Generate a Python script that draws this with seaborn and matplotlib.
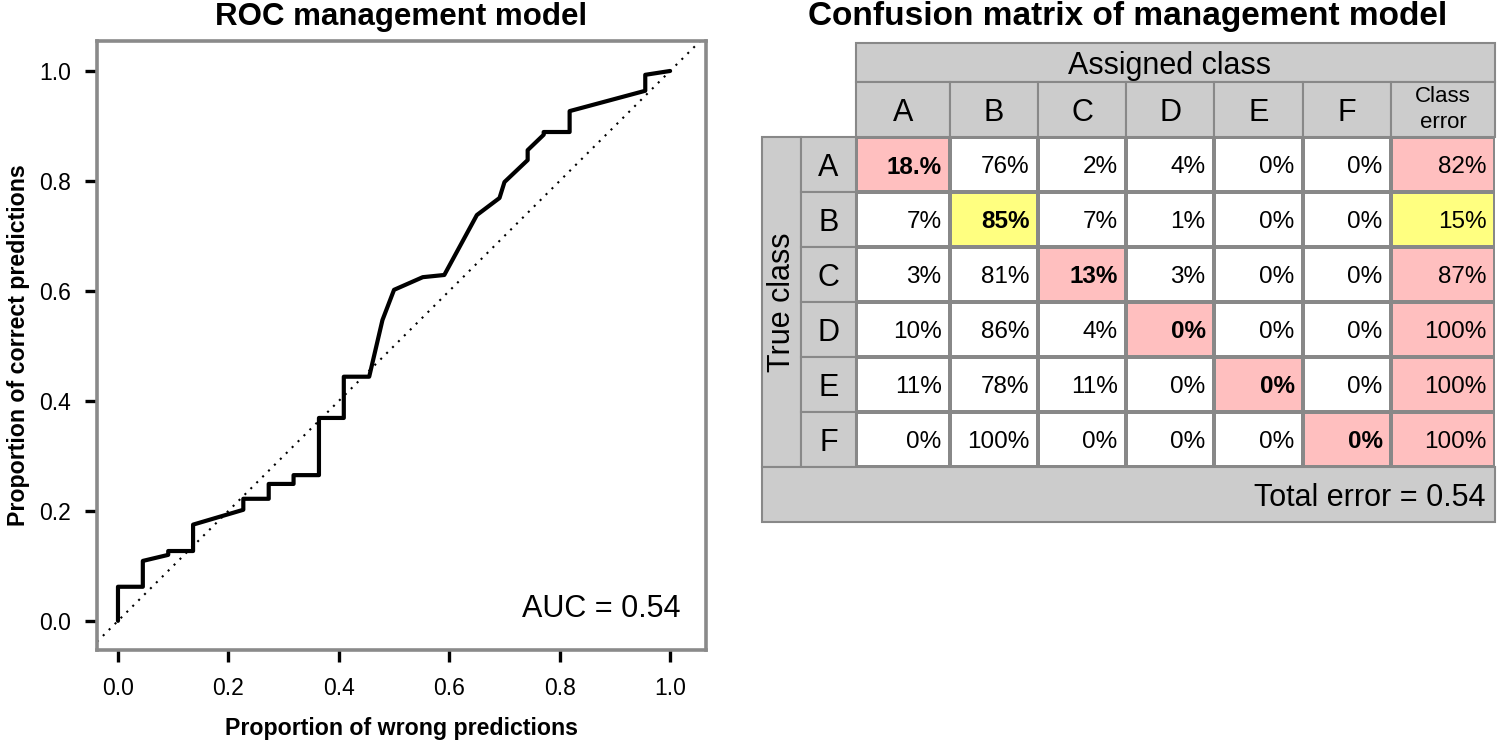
import numpy as np
import pandas as pd
import matplotlib
matplotlib.use('Agg')
import matplotlib.pyplot as plt
from matplotlib.colors import ListedColormap
from matplotlib.patches import Rectangle
import seaborn as sns

# ROC curve
fpr = [0.0, 0.0, 0.045, 0.045, 0.091, 0.091, 0.136, 0.136, 0.227, 0.227, 0.273, 0.273,
       0.318, 0.318, 0.364, 0.364, 0.409, 0.409, 0.455, 0.479, 0.500, 0.552, 0.591,
       0.650, 0.691, 0.700, 0.742, 0.742, 0.771, 0.771, 0.818, 0.818, 0.955, 0.955, 1.0]
tpr = [0.0, 0.062, 0.062, 0.109, 0.120, 0.127, 0.127, 0.175, 0.202, 0.222, 0.222, 0.249,
       0.249, 0.265, 0.265, 0.369, 0.369, 0.444, 0.444, 0.547, 0.602, 0.625, 0.629,
       0.738, 0.769, 0.798, 0.838, 0.856, 0.884, 0.889, 0.889, 0.927, 0.964, 0.993, 1.0]
auc = 0.54

# confusion matrix
classes = ['A', 'B', 'C', 'D', 'E', 'F']
cell_text = [
    ['18.%', '76%', '2%', '4%', '0%', '0%'],
    ['7%', '85%', '7%', '1%', '0%', '0%'],
    ['3%', '81%', '13%', '3%', '0%', '0%'],
    ['10%', '86%', '4%', '0%', '0%', '0%'],
    ['11%', '78%', '11%', '0%', '0%', '0%'],
    ['0%', '100%', '0%', '0%', '0%', '0%'],
]
correct_pct = [18, 85, 13, 0, 0, 0]
class_error = ['82%', '15%', '87%', '100%', '100%', '100%']
total_error = 0.54

# colour code per cell: 0 plain, 1 poor class (pink), 2 good class (yellow)
codes = np.zeros((6, 7), dtype=int)
for i in range(6):
    c = 2 if correct_pct[i] >= 50 else 1
    codes[i, i] = c
    codes[i, 6] = c
codes_df = pd.DataFrame(codes, index=classes, columns=classes + ['Class error'])

sns.set_style('white')
plt.rcParams['font.family'] = ['Liberation Sans', 'DejaVu Sans']
plt.rcParams['text.color'] = 'black'
plt.rcParams['axes.labelcolor'] = 'black'
plt.rcParams['xtick.color'] = 'black'
plt.rcParams['ytick.color'] = 'black'

W, H = 1499, 748
fig = plt.figure(figsize=(W / 100, H / 100), dpi=100)

# ---------------- ROC panel ----------------
ax = fig.add_axes([97 / W, 1 - 650 / H, 609 / W, 609 / H])
roc = pd.DataFrame({'fpr': fpr, 'tpr': tpr})
sns.lineplot(data=roc, x='fpr', y='tpr', sort=False, estimator=None, color='black',
             linewidth=3, ax=ax)
ax.axline((0, 0), (1, 1), color='black', linewidth=1.5, dashes=(1, 3))
ax.set_xlim(-0.038, 1.065)
ax.set_ylim(-0.053, 1.0545)
ticks = [0.0, 0.2, 0.4, 0.6, 0.8, 1.0]
ax.set_xticks(ticks)
ax.set_yticks(ticks)
ax.set_xticklabels(['%.1f' % t for t in ticks])
ax.set_yticklabels(['%.1f' % t for t in ticks])
ax.tick_params(axis='both', direction='out', length=8.5, width=2.4, color='black',
               labelsize=16.5, labelcolor='black', left=True, bottom=True)
ax.tick_params(axis='x', pad=11)
ax.tick_params(axis='y', pad=10)
for s in ax.spines.values():
    s.set_visible(True)
    s.set_color('#8a8a8a')
    s.set_linewidth(2.6)
ax.set_xlabel('Proportion of wrong predictions', fontsize=16.7, fontweight='bold')
ax.set_ylabel('Proportion of correct predictions', fontsize=16.7, fontweight='bold')
ax.xaxis.set_label_coords(0.5, -(717 - 650) / 609)
ax.yaxis.set_label_coords(-(97 - 30) / 609, 0.5)
ax.text(1.018, 0.022, 'AUC = %.2f' % auc, fontsize=22, ha='right', va='center')
fig.text(401 / W, 1 - 17 / H, 'ROC management model', fontsize=22.5, fontweight='bold',
         ha='center', va='center')

# ---------------- confusion matrix panel ----------------
x_idx = [-2, -1, 0, 1, 2, 3, 4, 5, 6, 7]
x_px = [762, 801, 856, 950, 1038, 1126, 1214, 1303, 1391, 1495]
y_idx = [-2, -1, 0, 1, 2, 3, 4, 5, 6, 7]
y_px = [43, 82, 137, 192, 247, 302, 357, 412, 467, 522]

ax2 = fig.add_axes([762 / W, 1 - 522 / H, 733 / W, 479 / H])
grid_col = '#888888'
head_col = '#cccccc'
cmap = ListedColormap(['white', '#ffbfbf', '#ffff80'])
sns.heatmap(codes_df, ax=ax2, cmap=cmap, vmin=-0.5, vmax=2.5, cbar=False,
            linewidths=1.5, linecolor=grid_col, xticklabels=False, yticklabels=False)
ax2.set_xscale('function', functions=(lambda v: np.interp(v, x_idx, x_px),
                                      lambda p: np.interp(p, x_px, x_idx)))
ax2.set_yscale('function', functions=(lambda v: np.interp(v, y_idx, y_px),
                                      lambda p: np.interp(p, y_px, y_idx)))
ax2.set_xlim(-2, 7)
ax2.set_ylim(7, -2)
ax2.set_axis_off()


def head_cell(x0, y0, w, h):
    ax2.add_patch(Rectangle((x0, y0), w, h, facecolor=head_col, edgecolor=grid_col,
                            linewidth=1.5, clip_on=False, zorder=1))


head_cell(0, -2, 7, 1)
for j in range(7):
    head_cell(j, -1, 1, 1)
head_cell(-2, 0, 1, 6)
for i in range(6):
    head_cell(-1, i, 1, 1)
head_cell(-2, 6, 9, 1)

ax2.text(3.5, -1.5, 'Assigned class', fontsize=22, ha='center', va='center_baseline')
for j, c in enumerate(classes):
    ax2.text(j + 0.5, -0.5, c, fontsize=22, ha='center', va='center_baseline')
    ax2.text(-0.5, j + 0.5, c, fontsize=22, ha='center', va='center_baseline')
ax2.text(6.5, -0.5, 'Class\nerror', fontsize=16, ha='center', va='center',
         linespacing=1.25)
ax2.text(-1.5, 3, 'True class', fontsize=22, ha='center', va='center', rotation=90)

for i in range(6):
    row = cell_text[i] + [class_error[i]]
    for j, t in enumerate(row):
        ax2.annotate(t, xy=(j + 1, i + 0.5), xytext=(-6, 0), textcoords='offset points',
                     fontsize=17.5, ha='right', va='center_baseline',
                     fontweight='bold' if i == j else 'normal')
ax2.annotate('Total error = %.2f' % total_error, xy=(7, 6.5), xytext=(-7, 0),
             textcoords='offset points', fontsize=22, ha='right', va='center_baseline')

fig.text(1128 / W, 1 - 17 / H, 'Confusion matrix of management model', fontsize=24,
         fontweight='bold', ha='center', va='center')

fig.savefig('out.png', dpi=100)
